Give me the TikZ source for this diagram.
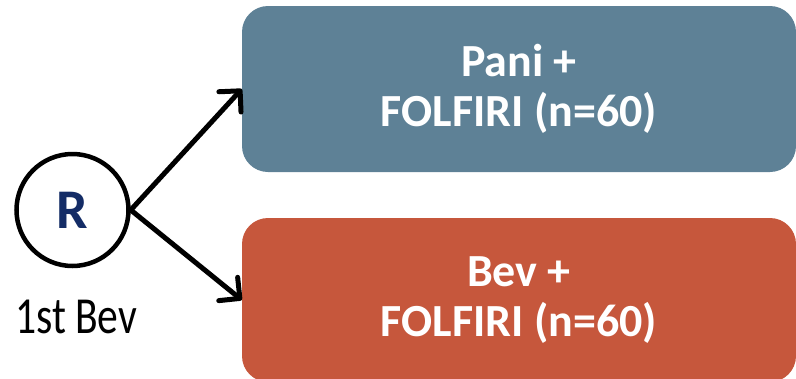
\documentclass[tikz,border=0pt]{standalone}
\usepackage{fontspec}
\setmainfont{Carlito}
\usetikzlibrary{arrows.meta}
\definecolor{armblue}{HTML}{5E8196}
\definecolor{armred}{HTML}{C6573C}
\definecolor{rnavy}{HTML}{142C66}
\tikzset{
  armbox/.style={rounded corners=26pt, minimum width=554pt, align=center,
    text=white, font=\fontsize{46}{50}\selectfont\bfseries, inner sep=0pt},
  randnode/.style={circle, draw=black, line width=4.5pt, minimum size=112pt,
    inner sep=0pt, text=rnavy, font=\fontsize{56}{60}\selectfont\bfseries},
  armarrow/.style={line width=5pt, line cap=round,
    -{Straight Barb[length=15pt, width=30pt, line width=5pt, round]}}
}
\begin{document}
\begin{tikzpicture}[x=1pt, y=-1pt]
  \useasboundingbox (0,0) rectangle (796,378);
  \begin{scope}
    \clip (0,0) rectangle (796,378);
    \node[armbox, fill=armblue, minimum height=166pt] (pani) at (519,89)
      {Pani +\\FOLFIRI (n=60)};
    \node[armbox, fill=armred, minimum height=164pt] (bev) at (519,300)
      {Bev +\\FOLFIRI (n=60)};
  \end{scope}
  \node[randnode] (R) at (72.5,210) {R};
  \node[font=\fontsize{52}{56}\selectfont, xscale=0.8, inner sep=0pt, anchor=base west]
    (prior) at (15,333) {1st Bev};
  \draw[armarrow] (R.east) -- (pani.west);
  \draw[armarrow] (R.east) -- (bev.west);
\end{tikzpicture}
\end{document}
